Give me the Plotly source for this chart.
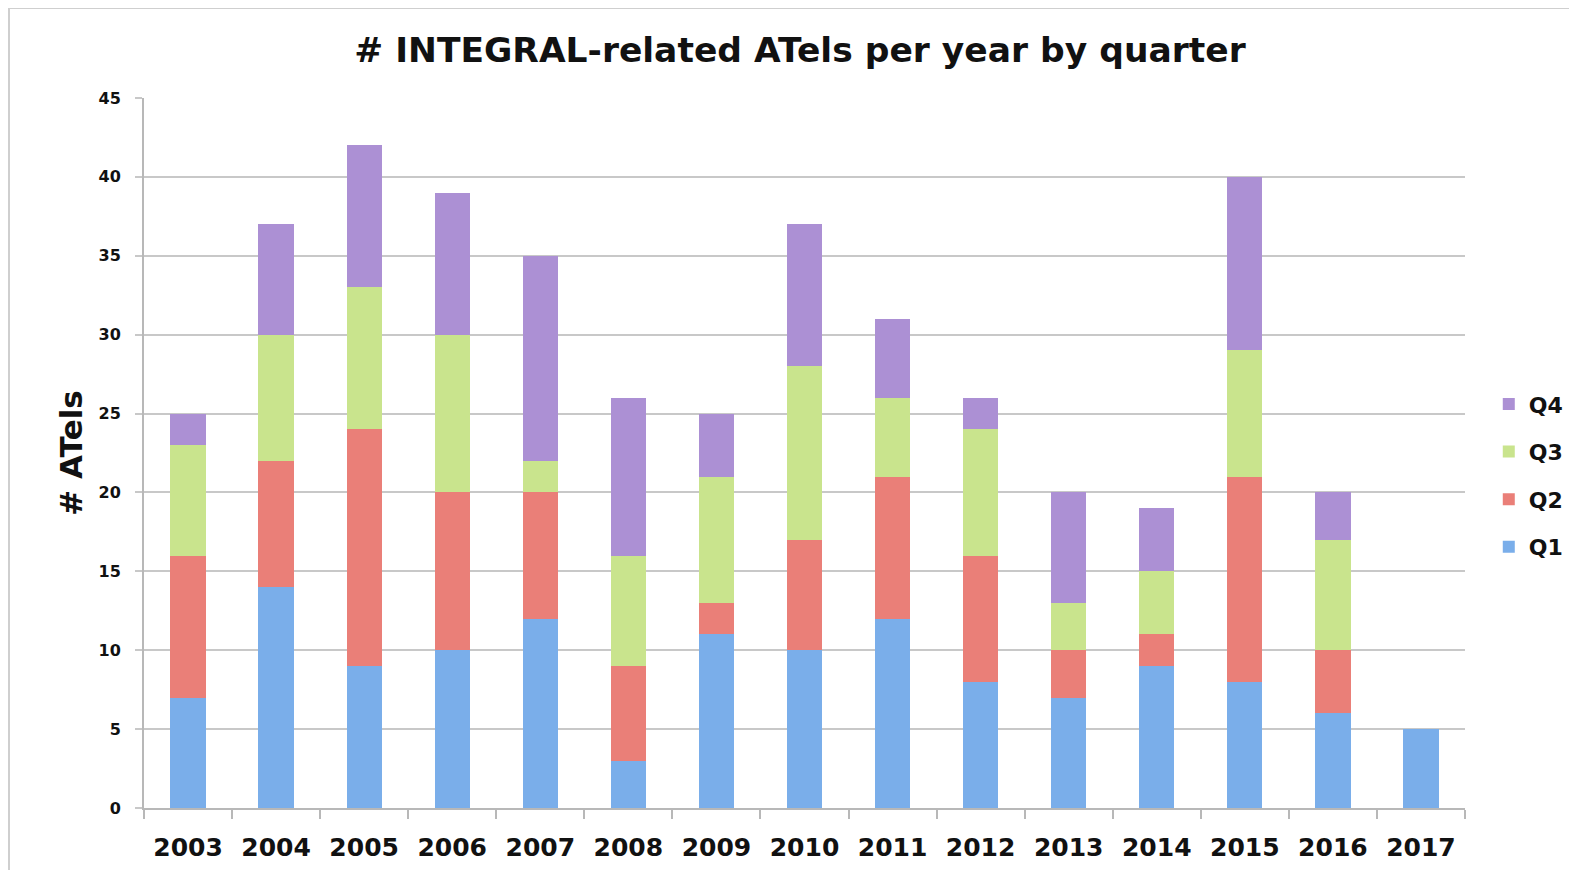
import plotly.graph_objects as go

years = ["2003", "2004", "2005", "2006", "2007", "2008", "2009", "2010",
         "2011", "2012", "2013", "2014", "2015", "2016", "2017"]
q1 = [7, 14, 9, 10, 12, 3, 11, 10, 12, 8, 7, 9, 8, 6, 5]
q2 = [9, 8, 15, 10, 8, 6, 2, 7, 9, 8, 3, 2, 13, 4, 0]
q3 = [7, 8, 9, 10, 2, 7, 8, 11, 5, 8, 3, 4, 8, 7, 0]
q4 = [2, 7, 9, 9, 13, 10, 4, 9, 5, 2, 7, 4, 11, 3, 0]

series = [("Q1", q1, "#7aaeea"), ("Q2", q2, "#ea7f78"),
          ("Q3", q3, "#c9e48d"), ("Q4", q4, "#ac90d4")]

FONT = "DejaVu Sans"
OFF = 8  # browser body margin
W, H = 1577 - OFF, 870 - OFF
L, R, T, B = 144 - OFF, 1465 - OFF, 98 - OFF, 808 - OFF
pw, ph = R - L, B - T

fig = go.Figure()
for i, (name, vals, col) in enumerate(series):
    fig.add_trace(go.Bar(
        x=years, y=vals, name="<b>" + name + "</b>", legendgroup=name,
        legendrank=10 - i,
        marker=dict(color=col, line=dict(width=0)),
    ))

fig.update_layout(
    barmode="stack",
    bargap=0.6,
    width=W, height=H,
    margin=dict(l=L, r=W - R, t=T, b=H - B, autoexpand=False),
    paper_bgcolor="white", plot_bgcolor="white",
    title=dict(text="<b># INTEGRAL-related ATels per year by quarter</b>",
               x=(800 - OFF) / W, xanchor="center", y=1 - (50 - OFF) / H, yanchor="middle",
               font=dict(family=FONT, size=34.5, color="#111111")),
    font=dict(family=FONT, color="#111111"),
    legend=dict(traceorder="grouped", tracegroupgap=16,
                x=1.018, xanchor="left", y=0.468, yanchor="middle",
                font=dict(family=FONT, size=22, color="#111111"),
                itemwidth=30, bgcolor="rgba(0,0,0,0)"),
    showlegend=True,
    shapes=[dict(type="rect", xref="paper", yref="paper",
                 x0=(1 - L) / pw, x1=1.2, y0=-0.12, y1=B / ph,
                 line=dict(color="#cfcfcf", width=2), fillcolor="rgba(0,0,0,0)",
                 layer="below")],
)
fig.update_xaxes(
    type="category", showline=True, linecolor="#b8b8b8", linewidth=2,
    ticks="outside", tickson="boundaries", ticklen=9, tickcolor="#b8b8b8",
    tickwidth=2, showgrid=False, automargin=False,
    tickfont=dict(family=FONT, size=25, color="#111111"),
    ticklabelstandoff=16,
    tickprefix="<b>", ticksuffix="</b>",
)
fig.update_yaxes(
    range=[0, 45], dtick=5, showline=True, linecolor="#b8b8b8", linewidth=2,
    showgrid=True, gridcolor="#c8c8c8", gridwidth=2, automargin=False,
    ticks="outside", ticklen=7, tickcolor="#c8c8c8", tickwidth=2,
    tickfont=dict(family=FONT, size=16, color="#111111"),
    tickprefix="<b>", ticksuffix="</b>", ticklabelstandoff=11,
    zeroline=False,
    title=dict(text="<b># ATels</b>", font=dict(family=FONT, size=31, color="#111111"),
               standoff=7),
)
fig.write_html("out.html")
